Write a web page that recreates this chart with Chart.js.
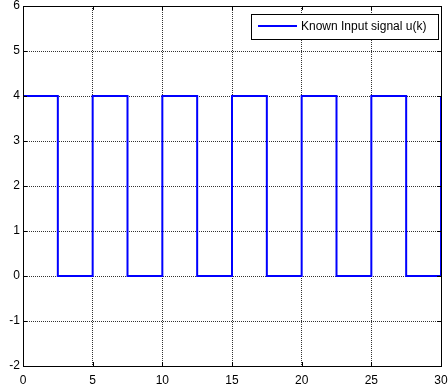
<!DOCTYPE html>
<html>
<head>
<meta charset="utf-8">
<script src="https://cdn.jsdelivr.net/npm/chart.js@4.4.1/dist/chart.umd.min.js"></script>
<style>
  html, body { margin: 0; padding: 0; background: #fff; }
  #wrap { width: 448px; height: 388px; }
</style>
</head>
<body>
<div id="wrap"><canvas id="chart" width="448" height="388"></canvas></div>
<script>
  // switching instants (k) and the input value that starts there
  const switchTimes = [0, 2.5, 5, 7.5, 10, 12.5, 15, 17.5, 20, 22.5, 25, 27.5, 30];
  const inputValues = [4, 0, 4, 0, 4, 0, 4, 0, 4, 0, 4, 0, 4];
  const seriesLabel = "Known Input signal u(k)";
  const xTicks = [0, 5, 10, 15, 20, 25, 30];
  const yTicks = [-2, -1, 0, 1, 2, 3, 4, 5, 6];

  const FONT = "Liberation Sans, Arial, sans-serif";

  // frame, inward tick marks and the boxed legend, drawn matlab style
  const matlabFrame = {
    id: "matlabFrame",
    afterDatasetsDraw(chart) {
      const { ctx, chartArea: a, scales } = chart;
      ctx.save();
      ctx.strokeStyle = "#000";
      ctx.lineWidth = 1;
      ctx.beginPath();
      for (const v of xTicks) {
        const x = Math.round(scales.x.getPixelForValue(v)) + 0.5;
        ctx.moveTo(x, a.bottom); ctx.lineTo(x, a.bottom - 4);
        ctx.moveTo(x, a.top); ctx.lineTo(x, a.top + 4);
      }
      for (const v of yTicks) {
        const y = Math.round(scales.y.getPixelForValue(v)) + 0.5;
        ctx.moveTo(a.left, y); ctx.lineTo(a.left + 4, y);
        ctx.moveTo(a.right, y); ctx.lineTo(a.right - 4, y);
      }
      ctx.stroke();
      ctx.strokeRect(Math.round(a.left) + 0.5, Math.round(a.top) + 0.5,
        Math.round(a.right - a.left), Math.round(a.bottom - a.top));

      // legend box
      const bx = Math.round(a.right) - 190, by = Math.round(a.top) + 8;
      ctx.fillStyle = "#fff";
      ctx.fillRect(bx, by, 187, 25);
      ctx.strokeRect(bx + 0.5, by + 0.5, 187, 25);
      ctx.strokeStyle = "#0000ff";
      ctx.lineWidth = 2;
      ctx.beginPath();
      ctx.moveTo(bx + 7, by + 12);
      ctx.lineTo(bx + 46, by + 12);
      ctx.stroke();
      ctx.fillStyle = "#000";
      ctx.font = "12px " + FONT;
      ctx.textBaseline = "middle";
      ctx.fillText(seriesLabel, bx + 50, by + 13);
      ctx.restore();
    },
  };

  new Chart(document.getElementById("chart"), {
    type: "line",
    data: {
      datasets: [{
        label: seriesLabel,
        data: switchTimes.map((t, i) => ({ x: t, y: inputValues[i] })),
        stepped: "before",
        borderColor: "#0000ff",
        borderWidth: 2,
        pointRadius: 0,
        fill: false,
        clip: false,
      }],
    },
    options: {
      responsive: false,
      animation: false,
      layout: { padding: { top: 6, right: 7, left: 0, bottom: 0 } },
      plugins: { legend: { display: false }, tooltip: { enabled: false } },
      scales: {
        x: {
          type: "linear",
          min: 0,
          max: 30,
          afterBuildTicks: (s) => { s.ticks = xTicks.map((v) => ({ value: v })); },
          afterFit: (s) => { s.height = 22; s.paddingLeft = 0; s.paddingRight = 0; },
          grid: { color: "#333", lineWidth: 1, drawTicks: false },
          border: { display: false, dash: [1, 1] },
          ticks: { color: "#000", font: { family: FONT, size: 12 }, padding: 7, maxRotation: 0 },
        },
        y: {
          min: -2,
          max: 6,
          afterBuildTicks: (s) => { s.ticks = yTicks.map((v) => ({ value: v })); },
          afterFit: (s) => { s.width = 23; s.paddingTop = 0; s.paddingBottom = 0; },
          grid: { color: "#333", lineWidth: 1, drawTicks: false },
          border: { display: false, dash: [1, 1] },
          ticks: { color: "#000", font: { family: FONT, size: 12 }, padding: 3 },
        },
      },
    },
    plugins: [matlabFrame],
  });
</script>
</body>
</html>
